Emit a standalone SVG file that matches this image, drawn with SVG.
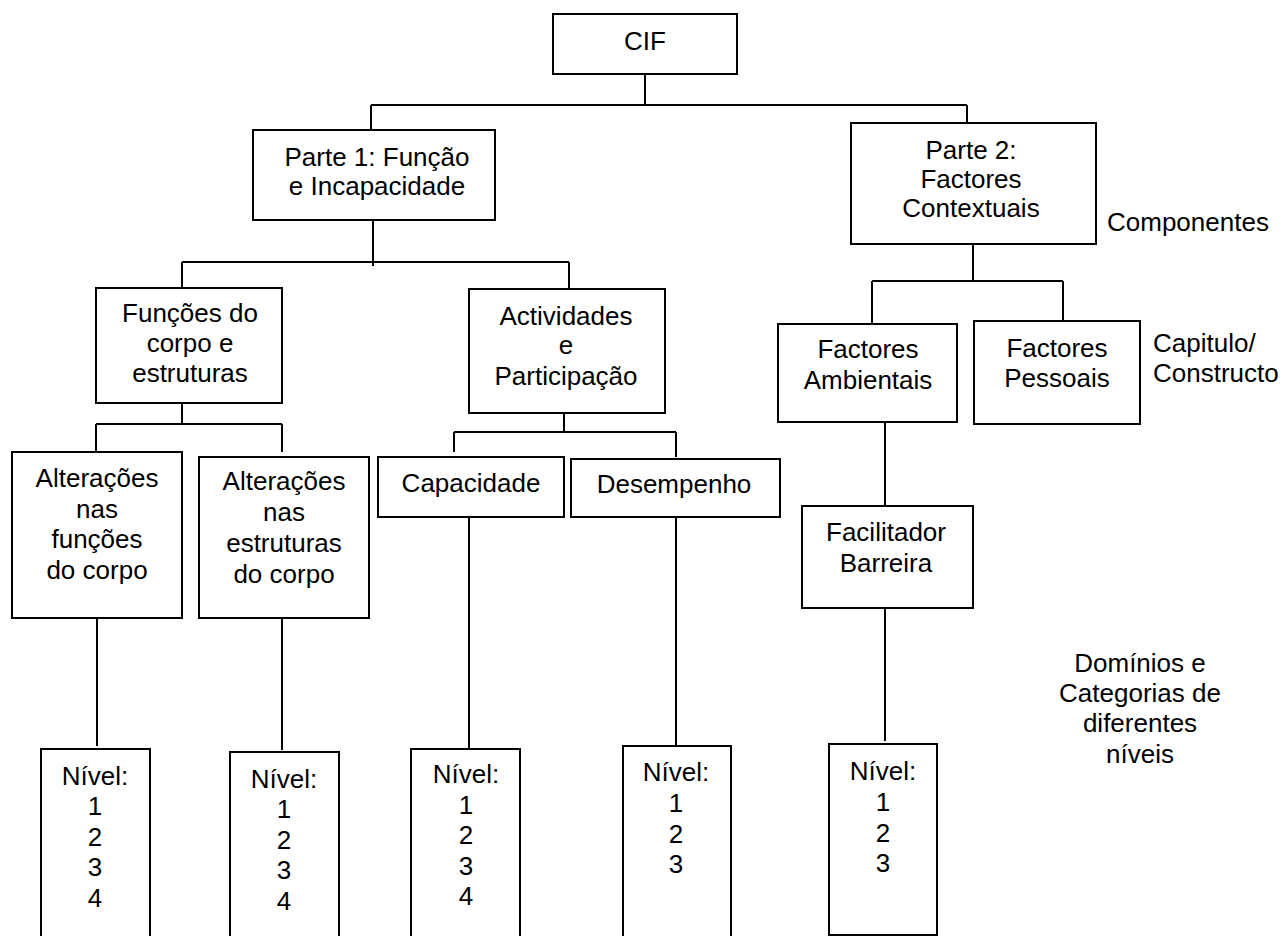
<svg xmlns="http://www.w3.org/2000/svg" width="1284" height="936" viewBox="0 0 1284 936">
<style>
  .box { fill: #ffffff; stroke: #000000; stroke-width: 2; }
  .ln { fill: none; stroke: #000000; stroke-width: 2; }
  text { font-family: "Liberation Sans", Arial, sans-serif; font-size: 26px; fill: #000000; }
  .c { text-anchor: middle; }
</style>
<rect x="0" y="0" width="1284" height="936" fill="#ffffff"/>
<g id="connectors">
  <path class="ln" d="M645,74 V105 M371,105 H967 M371,105 V130 M967,105 V123"/>
  <path class="ln" d="M373,220 V266 M182,262 H569 M182,262 V288 M569,262 V289"/>
  <path class="ln" d="M973,244 V281 M872,281 H1063 M872,281 V324 M1063,281 V321"/>
  <path class="ln" d="M182,403 V424 M96,424 H282 M96,424 V452 M282,424 V452"/>
  <path class="ln" d="M564,413 V432 M454,432 H676 M454,432 V452 M676,432 V457"/>
  <path class="ln" d="M97,618 V746 M282,619 V750 M469,517 V748 M676,517 V746"/>
  <path class="ln" d="M885,422 V506 M885,608 V741"/>
</g>
<g id="cif">
  <rect class="box" x="553" y="14" width="184" height="60"/>
  <text class="c" x="645" y="50">CIF</text>
</g>
<g id="parte1">
  <rect class="box" x="253" y="130" width="242" height="90"/>
  <text class="c" x="377" y="166">Parte 1: Função</text>
  <text class="c" x="377" y="195">e Incapacidade</text>
</g>
<g id="parte2">
  <rect class="box" x="851" y="123" width="245" height="121"/>
  <text class="c" x="971" y="159">Parte 2:</text>
  <text class="c" x="971" y="188">Factores</text>
  <text class="c" x="971" y="217">Contextuais</text>
</g>
<g id="label-componentes">
  <text x="1107" y="231">Componentes</text>
</g>
<g id="funcoes">
  <rect class="box" x="96" y="288" width="186" height="115"/>
  <text class="c" x="190" y="322">Funções do</text>
  <text class="c" x="190" y="352">corpo e</text>
  <text class="c" x="190" y="382">estruturas</text>
</g>
<g id="actividades">
  <rect class="box" x="469" y="289" width="196" height="124"/>
  <text class="c" x="566" y="325">Actividades</text>
  <text class="c" x="566" y="354">e</text>
  <text class="c" x="566" y="385">Participação</text>
</g>
<g id="ambientais">
  <rect class="box" x="778" y="324" width="179" height="98"/>
  <text class="c" x="868" y="358">Factores</text>
  <text class="c" x="868" y="389">Ambientais</text>
</g>
<g id="pessoais">
  <rect class="box" x="974" y="321" width="166" height="103"/>
  <text class="c" x="1057" y="357">Factores</text>
  <text class="c" x="1057" y="387">Pessoais</text>
</g>
<g id="label-capitulo">
  <text x="1153" y="352">Capitulo/</text>
  <text x="1153" y="382">Constructo</text>
</g>
<g id="alteracoes-funcoes">
  <rect class="box" x="12" y="452" width="170" height="166"/>
  <text class="c" x="97" y="487">Alterações</text>
  <text class="c" x="97" y="518">nas</text>
  <text class="c" x="97" y="548">funções</text>
  <text class="c" x="97" y="579">do corpo</text>
</g>
<g id="alteracoes-estruturas">
  <rect class="box" x="199" y="457" width="170" height="161"/>
  <text class="c" x="284" y="490">Alterações</text>
  <text class="c" x="284" y="521">nas</text>
  <text class="c" x="284" y="552">estruturas</text>
  <text class="c" x="284" y="583">do corpo</text>
</g>
<g id="capacidade">
  <rect class="box" x="378" y="457" width="186" height="60"/>
  <text class="c" x="471" y="492">Capacidade</text>
</g>
<g id="desempenho">
  <rect class="box" x="571" y="459" width="209" height="58"/>
  <text class="c" x="674" y="493">Desempenho</text>
</g>
<g id="facilitador">
  <rect class="box" x="802" y="506" width="171" height="102"/>
  <text class="c" x="886" y="541">Facilitador</text>
  <text class="c" x="886" y="572">Barreira</text>
</g>
<g id="label-dominios">
  <text class="c" x="1140" y="672">Domínios e</text>
  <text class="c" x="1140" y="702">Categorias de</text>
  <text class="c" x="1140" y="732">diferentes</text>
  <text class="c" x="1140" y="763">níveis</text>
</g>
<g id="nivel1">
  <rect class="box" x="41" y="749" width="109" height="200"/>
  <text class="c" x="95" y="785">Nível:</text>
  <text class="c" x="95" y="815">1</text>
  <text class="c" x="95" y="846">2</text>
  <text class="c" x="95" y="876">3</text>
  <text class="c" x="95" y="907">4</text>
</g>
<g id="nivel2">
  <rect class="box" x="230" y="752" width="109" height="200"/>
  <text class="c" x="284" y="788">Nível:</text>
  <text class="c" x="284" y="818">1</text>
  <text class="c" x="284" y="849">2</text>
  <text class="c" x="284" y="879">3</text>
  <text class="c" x="284" y="910">4</text>
</g>
<g id="nivel3">
  <rect class="box" x="411" y="749" width="109" height="200"/>
  <text class="c" x="466" y="783">Nível:</text>
  <text class="c" x="466" y="814">1</text>
  <text class="c" x="466" y="844">2</text>
  <text class="c" x="466" y="875">3</text>
  <text class="c" x="466" y="905">4</text>
</g>
<g id="nivel4">
  <rect class="box" x="623" y="746" width="108" height="200"/>
  <text class="c" x="676" y="781">Nível:</text>
  <text class="c" x="676" y="812">1</text>
  <text class="c" x="676" y="843">2</text>
  <text class="c" x="676" y="873">3</text>
</g>
<g id="nivel5">
  <rect class="box" x="829" y="744" width="108" height="191"/>
  <text class="c" x="883" y="780">Nível:</text>
  <text class="c" x="883" y="811">1</text>
  <text class="c" x="883" y="842">2</text>
  <text class="c" x="883" y="872">3</text>
</g>
</svg>
